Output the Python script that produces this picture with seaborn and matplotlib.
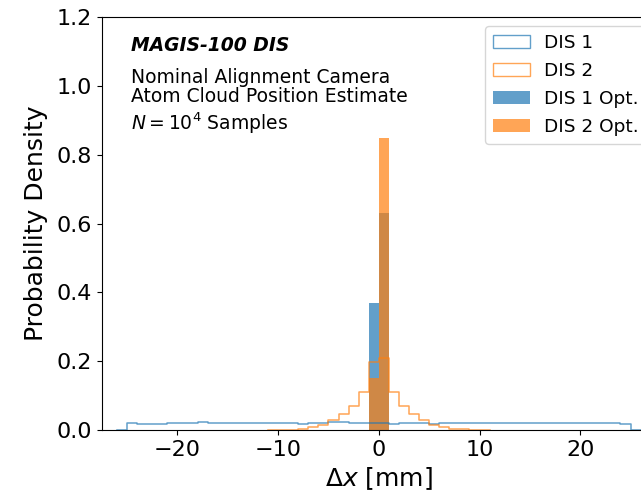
import numpy as np
import pandas as pd
import seaborn as sns
import matplotlib.pyplot as plt
from matplotlib.patches import Patch

# DIS 1: wide, nearly flat distribution, 1 mm bins from -25 to 25 (density)
dis1_edges = np.arange(-25, 26)
dis1_density = [0.021, 0.017, 0.018, 0.018, 0.019, 0.019, 0.021, 0.024, 0.021, 0.020,
                0.019, 0.019, 0.020, 0.019, 0.020, 0.021, 0.019, 0.018, 0.019, 0.020,
                0.022, 0.022, 0.021, 0.021, 0.020, 0.021, 0.018, 0.020, 0.020, 0.019,
                0.018, 0.019, 0.020, 0.020, 0.019, 0.020, 0.020, 0.020, 0.020, 0.020,
                0.019, 0.019, 0.019, 0.019, 0.020, 0.020, 0.021, 0.020, 0.020, 0.018]

# DIS 2: peaked distribution, 1 mm bins from -10 to 10
dis2_edges = np.arange(-10, 11)
dis2_density = [0.001, 0.001, 0.004, 0.009, 0.015, 0.028, 0.046, 0.070, 0.111, 0.198,
                0.208, 0.111, 0.070, 0.048, 0.028, 0.015, 0.009, 0.004, 0.003, 0.001]

# Optimised alignment, 1 mm bins from -1 to 1
opt_edges = np.arange(-1, 2)
dis1_opt_density = [0.37, 0.63]
dis2_opt_density = [0.15, 0.85]

blue = '#1f77b4'
orange = '#ff7f0e'


def padded(edges, dens):
    # add an empty bin on each side so the step outline drops to zero
    e = np.r_[edges[0] - 1, edges, edges[-1] + 1]
    centers = (e[:-1] + e[1:]) / 2
    return pd.DataFrame({'x': centers, 'w': np.r_[0, dens, 0]}), (float(e[0]), float(e[-1]))


fig = plt.figure(figsize=(6.41, 4.98), dpi=100)
ax = fig.add_axes([0.159, 0.1365, 0.864, 0.829])

df1, r1 = padded(dis1_edges, dis1_density)
df2, r2 = padded(dis2_edges, dis2_density)
sns.histplot(data=df1, x='x', weights='w', binwidth=1, binrange=r1, stat='count',
             element='step', fill=False, color=blue, alpha=0.7, linewidth=1.1, ax=ax)
sns.histplot(data=df2, x='x', weights='w', binwidth=1, binrange=r2, stat='count',
             element='step', fill=False, color=orange, alpha=0.7, linewidth=1.1, ax=ax)

opt_df1 = pd.DataFrame({'x': (opt_edges[:-1] + opt_edges[1:]) / 2, 'w': dis1_opt_density})
opt_df2 = pd.DataFrame({'x': (opt_edges[:-1] + opt_edges[1:]) / 2, 'w': dis2_opt_density})
opt_range = (float(opt_edges[0]), float(opt_edges[-1]))
sns.histplot(data=opt_df1, x='x', weights='w', binwidth=1, binrange=opt_range, stat='count',
             element='bars', fill=True, color=blue, alpha=0.7, edgecolor='none',
             linewidth=0, ax=ax)
sns.histplot(data=opt_df2, x='x', weights='w', binwidth=1, binrange=opt_range, stat='count',
             element='bars', fill=True, color=orange, alpha=0.7, edgecolor='none',
             linewidth=0, ax=ax)

ax.set_xlim(-27.5, 27.5)
ax.set_ylim(0, 1.2)
ax.set_xlabel(r'$\Delta x$ [mm]', fontsize=18)
ax.set_ylabel('Probability Density', fontsize=18, labelpad=6)
ax.tick_params(labelsize=16)

ax.text(0.052, 0.955, 'MAGIS-100 DIS', transform=ax.transAxes, fontsize=13.5,
        fontweight='bold', fontstyle='italic', va='top')
ax.text(0.052, 0.878, 'Nominal Alignment Camera\nAtom Cloud Position Estimate',
        transform=ax.transAxes, fontsize=13.5, va='top', linespacing=1.0)
ax.text(0.052, 0.775, r'$N = 10^4$ Samples', transform=ax.transAxes,
        fontsize=13.5, va='top')

handles = [Patch(facecolor='none', edgecolor=blue, alpha=0.7, linewidth=1.0),
           Patch(facecolor='none', edgecolor=orange, alpha=0.7, linewidth=1.0),
           Patch(facecolor=blue, alpha=0.7),
           Patch(facecolor=orange, alpha=0.7)]
ax.legend(handles, ['DIS 1', 'DIS 2', 'DIS 1 Opt.', 'DIS 2 Opt.'],
          loc='upper right', fontsize=13.3, labelspacing=0.55)

fig.savefig('out.png', dpi=100)
